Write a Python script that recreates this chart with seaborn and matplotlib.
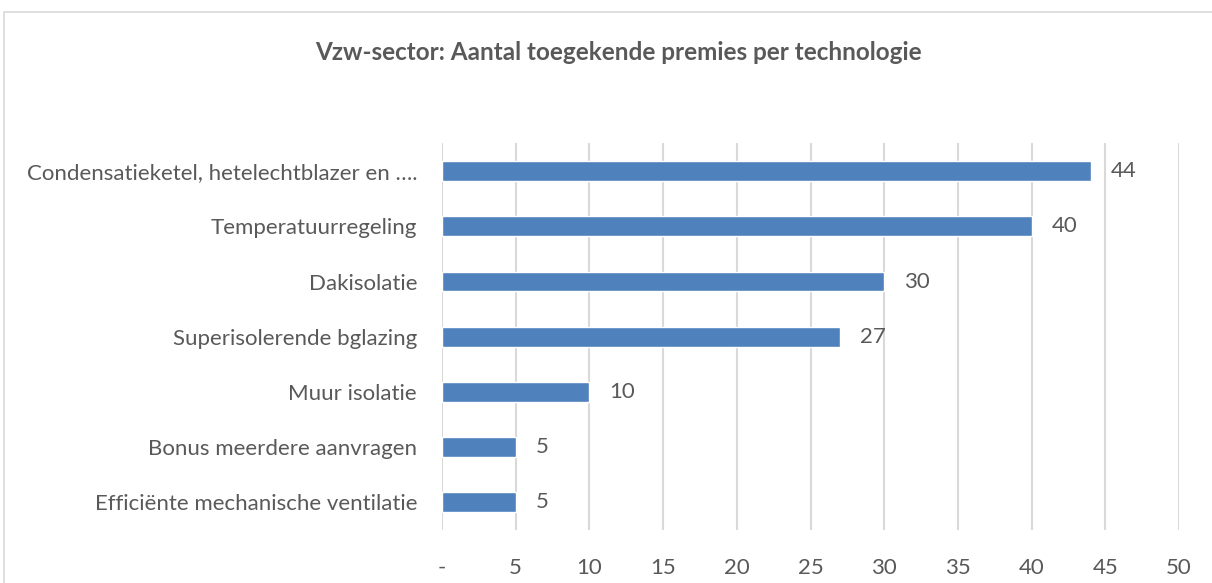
import pandas as pd
import seaborn as sns
import matplotlib.pyplot as plt
from matplotlib.patches import Rectangle

# Data
technologies = [
    "Condensatieketel, hetelechtblazer en ….",
    "Temperatuurregeling",
    "Dakisolatie",
    "Superisolerende bglazing",
    "Muur isolatie",
    "Bonus meerdere aanvragen",
    "Efficiënte mechanische ventilatie",
]
premies = [44, 40, 30, 27, 10, 5, 5]
tick_values = [0, 5, 10, 15, 20, 25, 30, 35, 40, 45, 50]
tick_labels = ["-", "5", "10", "15", "20", "25", "30", "35", "40", "45", "50"]

df = pd.DataFrame({"technologie": technologies, "aantal": premies})

sns.set_style("white")
plt.rcParams["font.family"] = ["Lato", "DejaVu Sans"]
text_color = "#595959"

fig = plt.figure(figsize=(12.12, 5.83), dpi=100)
ax = fig.add_axes([0.3647, 0.0909, 0.6081, 0.663])

sns.barplot(data=df, y="technologie", x="aantal", orient="h",
            color="#4F81BD", saturation=1, width=0.36, ax=ax, zorder=3)

# value labels
for i, v in enumerate(premies):
    ax.text(v + 1.35, i, str(v), va="center", ha="left",
            fontsize=16, color=text_color)

ax.set_xlim(0, 50)
ax.set_ylim(6.5, -0.5)
ax.set_xticks(tick_values)
ax.set_xticklabels(tick_labels)
ax.xaxis.grid(True, color="#D9D9D9", linewidth=1.5, zorder=0)
ax.set_axisbelow(True)
ax.tick_params(axis="both", length=0, labelsize=16, labelcolor=text_color)
ax.tick_params(axis="x", pad=20)
ax.tick_params(axis="y", pad=18)
ax.set_xlabel("")
ax.set_ylabel("")
for s in ax.spines.values():
    s.set_visible(False)

fig.suptitle("Vzw-sector: Aantal toegekende premies per technologie",
             x=0.51, y=0.93, fontsize=17.5, fontweight="bold", color=text_color)

# chart border
fig.patches.append(Rectangle((4 / 1212, -0.05), 1.1, 1 - 12 / 583 + 0.05,
                             transform=fig.transFigure, fill=False,
                             edgecolor="#D9D9D9", linewidth=1.2))

plt.savefig("out.png", dpi=100)
